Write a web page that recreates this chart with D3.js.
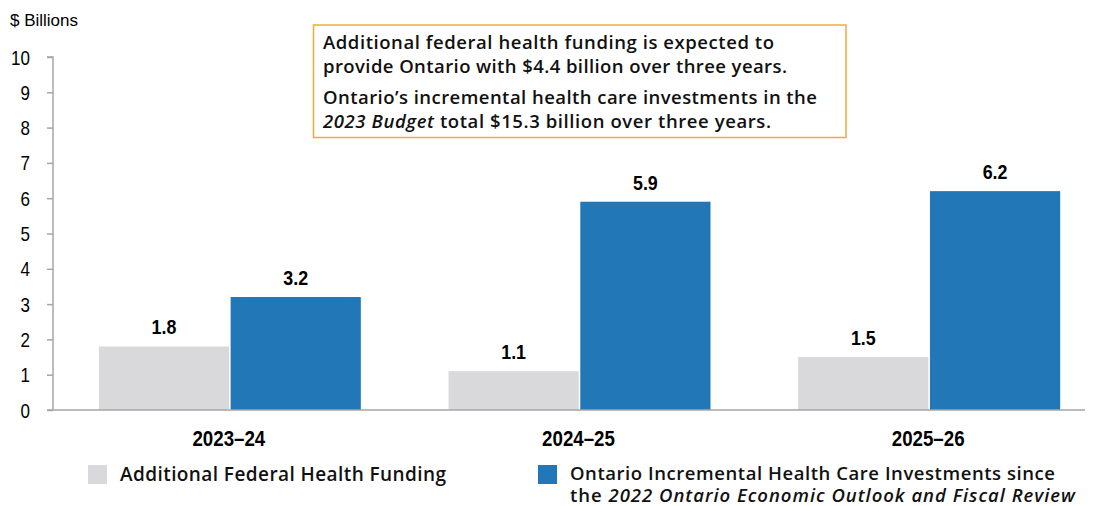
<!DOCTYPE html>
<html>
<head>
<meta charset="utf-8">
<script src="https://cdn.jsdelivr.net/npm/d3@7"></script>
<style>
  body { margin: 0; background: #fff; }
  svg { display: block; }
  .narrow { font-family: "Liberation Sans", Arial, sans-serif; }
  .body { font-family: "Open Sans", "Lato", sans-serif; }
</style>
</head>
<body>
<svg id="chart" width="1096" height="506"></svg>
<script>
// Fiscal years on the x axis
const years = ["2023–24", "2024–25", "2025–26"];
// Additional federal health funding ($ billions)
const federalFunding = [1.8, 1.1, 1.5];
// Ontario incremental health care investments ($ billions)
const ontarioInvestments = [3.2, 5.9, 6.2];
// Y axis ticks
const yTicks = [0, 1, 2, 3, 4, 5, 6, 7, 8, 9, 10];
const seriesNames = ["federal", "ontario"];
const colors = { federal: "#d9d9db", ontario: "#2277b7" };

const svg = d3.select("#chart");
const x0 = 53, yTop = 57, yBase = 410;
const squeeze = 0.85; // horizontal compression for the condensed numeric labels

const x = d3.scaleBand().domain(years).range([x0 + 2, 1104]).paddingInner(0).paddingOuter(0);
const y = d3.scaleLinear().domain([0, 10]).range([yBase, yTop]);
const xs = d3.scaleBand().domain(seriesNames).range([0, 262]).paddingInner(0.012);
const groupOffset = (x.bandwidth() - 262) / 2;

const rows = years.map((yr, i) => ({ yr, federal: federalFunding[i], ontario: ontarioInvestments[i] }));

// condensed label helper: draws text at (px, py) squeezed horizontally
function condensed(sel, px, py) {
  return sel.attr("x", 0).attr("y", 0)
    .attr("transform", (d, i) => `translate(${px(d, i)},${py(d, i)}) scale(${squeeze},1)`);
}

// Y axis
const yAxis = svg.append("g").attr("transform", `translate(${x0},0)`)
  .call(d3.axisLeft(y).tickValues(yTicks).tickSize(6).tickPadding(23).tickFormat(d3.format("d")));
yAxis.select(".domain").attr("stroke", "#a6a6a6").attr("stroke-width", 1.5).attr("d", `M-6,${yTop}H0V${yBase}`);
yAxis.selectAll(".tick line").attr("stroke", "#a6a6a6").attr("stroke-width", 1.5);
yAxis.selectAll(".tick text").attr("class", "narrow")
  .style("font-size", "20px").attr("fill", "#000")
  .attr("dy", "0.35em")
  .attr("x", null)
  .attr("transform", `translate(-23,0) scale(${squeeze},1)`);

svg.append("text").attr("class", "narrow").attr("x", 10).attr("y", 26)
  .style("font-size", "17px").text("$ Billions");

// Bars
const groups = svg.append("g").selectAll("g").data(rows).join("g")
  .attr("transform", d => `translate(${x(d.yr) + groupOffset},0)`);

groups.selectAll("rect").data(d => seriesNames.map(k => ({ k, v: d[k] }))).join("rect")
  .attr("x", d => xs(d.k)).attr("width", xs.bandwidth())
  .attr("y", d => y(d.v)).attr("height", d => y(0) - y(d.v))
  .attr("fill", d => colors[d.k]);

groups.selectAll("text.val").data(d => seriesNames.map(k => ({ k, v: d[k] }))).join("text")
  .attr("class", "val narrow")
  .call(condensed, d => xs(d.k) + xs.bandwidth() / 2, d => y(d.v) - 12)
  .attr("text-anchor", "middle").style("font-size", "21px").style("font-weight", "bold")
  .text(d => d3.format(".1f")(d.v));

// X baseline
svg.append("line").attr("x1", 47).attr("x2", 1085).attr("y1", yBase).attr("y2", yBase)
  .attr("stroke", "#a6a6a6").attr("stroke-width", 1.5);

// Category labels
svg.append("g").selectAll("text").data(years).join("text")
  .attr("class", "narrow")
  .call(condensed, d => x(d) + x.bandwidth() / 2 - 1, () => 446)
  .attr("text-anchor", "middle").style("font-size", "22px").style("font-weight", "bold")
  .text(d => d);

// Multi-line text block: each line is a tspan fitted to a set width
function textBlock(parent, size, lines) {
  const t = parent.append("text").attr("class", "body")
    .style("font-size", size + "px").style("font-weight", "600").attr("fill", "#111");
  lines.forEach(line => {
    const row = t.append("tspan").attr("x", line.x).attr("y", line.y)
      .attr("textLength", line.w).attr("lengthAdjust", "spacing");
    line.parts.forEach(p => row.append("tspan").style("font-style", p.italic ? "italic" : "normal").text(p.s));
  });
  return t;
}

// Annotation box
svg.append("rect").attr("x", 313.5).attr("y", 25).attr("width", 532.5).attr("height", 112.5)
  .attr("fill", "#fff").attr("stroke", "#f1aa3a").attr("stroke-width", 1.5);
textBlock(svg, 18.5, [
  { x: 323, y: 49, w: 451, parts: [{ s: "Additional federal health funding is expected to" }] },
  { x: 323, y: 73, w: 464, parts: [{ s: "provide Ontario with $4.4 billion over three years." }] },
  { x: 323, y: 104, w: 494, parts: [{ s: "Ontario’s incremental health care investments in the" }] },
  { x: 323, y: 128, w: 448, parts: [{ s: "2023 Budget", italic: true }, { s: " total $15.3 billion over three years." }] }
]);

// Legend
const leg = svg.append("g");
leg.append("rect").attr("x", 88).attr("y", 465).attr("width", 19).attr("height", 19).attr("fill", colors.federal);
textBlock(leg, 19, [
  { x: 120, y: 481, w: 326, parts: [{ s: "Additional Federal Health Funding" }] }
]);
leg.append("rect").attr("x", 538).attr("y", 465).attr("width", 19).attr("height", 19).attr("fill", colors.ontario);
textBlock(leg, 18.5, [
  { x: 570, y: 480, w: 485, parts: [{ s: "Ontario Incremental Health Care Investments since" }] },
  { x: 570, y: 502, w: 505, parts: [{ s: "the " }, { s: "2022 Ontario Economic Outlook and Fiscal Review", italic: true }] }
]);
</script>
</body>
</html>
